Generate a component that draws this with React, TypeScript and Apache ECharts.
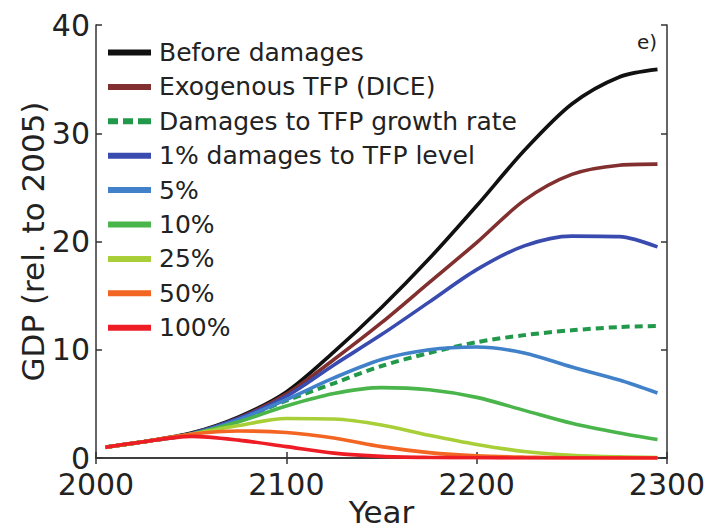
import React, { useEffect, useRef } from "react";
import * as echarts from "echarts";

const years = [2005, 2025, 2050, 2075, 2100, 2125, 2150, 2175, 2200, 2225, 2250, 2275, 2295];

const beforeDamages = [1.0, 1.5, 2.3, 3.8, 6.1, 9.8, 13.9, 18.4, 23.3, 28.4, 32.7, 35.2, 35.9];
const exogenousTFP = [1.0, 1.5, 2.25, 3.7, 5.9, 9.1, 12.5, 16.2, 19.9, 23.8, 26.2, 27.05, 27.15];
const growthRate = [1.0, 1.5, 2.2, 3.55, 5.3, 6.9, 8.5, 9.7, 10.7, 11.35, 11.8, 12.1, 12.2];
const level1 = [1.0, 1.5, 2.25, 3.65, 5.7, 8.6, 11.4, 14.4, 17.4, 19.6, 20.5, 20.45, 19.5];
const level5 = [1.0, 1.5, 2.2, 3.55, 5.4, 7.4, 9.1, 10.0, 10.25, 9.7, 8.4, 7.2, 6.0];
const level10 = [1.0, 1.5, 2.2, 3.35, 4.8, 5.95, 6.5, 6.3, 5.6, 4.4, 3.2, 2.3, 1.7];
const level25 = [1.0, 1.5, 2.2, 3.0, 3.65, 3.6, 3.05, 2.1, 1.25, 0.6, 0.25, 0.1, 0.05];
const level50 = [1.0, 1.5, 2.2, 2.5, 2.35, 1.85, 1.05, 0.5, 0.2, 0.08, 0.03, 0.01, 0.0];
const level100 = [1.0, 1.5, 2.0, 1.65, 1.05, 0.45, 0.15, 0.05, 0.02, 0.0, 0.0, 0.0, 0.0];

const seriesNames = [
  "Before damages",
  "Exogenous TFP (DICE)",
  "Damages to TFP growth rate",
  "1% damages to TFP level",
  "5%",
  "10%",
  "25%",
  "50%",
  "100%",
];
const seriesValues = [beforeDamages, exogenousTFP, growthRate, level1, level5, level10, level25, level50, level100];
const seriesColors = ["#111111", "#82302f", "#22994a", "#3a4bb0", "#4181c9", "#49b54a", "#a8cf38", "#f26522", "#ee1c25"];

const xTicks = [2000, 2100, 2200, 2300];
const yTicks = [0, 10, 20, 30, 40];

const FONT = "DejaVu Sans";
const DASH_ICON = "path://M0,0h10v6h-10z M15,0h10v6h-10z M30,0h13v6h-13z";

export default function App() {
  const ref = useRef<HTMLDivElement>(null);
  useEffect(() => {
    if (!ref.current) return;
    const chart = echarts.init(ref.current, undefined, { renderer: "svg" });
    const axisLine = { show: true, lineStyle: { color: "#333", width: 1.5 } };
    const tick = { show: true, inside: true, length: 6, lineStyle: { color: "#333", width: 1.5 } };
    const series = seriesNames.map((name, i) => ({
      name,
      type: "line",
      xAxisIndex: 0,
      yAxisIndex: 0,
      symbol: "none",
      smooth: 0.3,
      data: years.map((y, j) => [y, seriesValues[i][j]]),
      lineStyle: {
        color: seriesColors[i],
        width: i === 2 ? 4 : 3.6,
        type: i === 2 ? [8, 5] : "solid",
      },
      itemStyle: { color: seriesColors[i] },
    }));
    chart.setOption({
      animation: false,
      backgroundColor: "#fff",
      textStyle: { fontFamily: FONT },
      grid: { left: 96, top: 25, right: 40, bottom: 72, containLabel: false, outerBoundsMode: "none" },
      legend: {
        orient: "vertical",
        left: 103,
        top: 35,
        itemWidth: 43,
        itemHeight: 6,
        itemGap: 9.4,
        data: seriesNames.map((n, i) => ({ name: n, icon: i === 2 ? DASH_ICON : "rect" })),
        textStyle: { fontFamily: FONT, fontSize: 25, lineHeight: 25, color: "#222", padding: [0, 0, 0, 3] },
        selectedMode: false,
      },
      xAxis: [
        {
          type: "value",
          min: 2000,
          max: 2300,
          interval: 100,
          name: "Year",
          nameLocation: "middle",
          nameGap: 38,
          nameMoveOverlap: false,
          nameTextStyle: { fontFamily: FONT, fontSize: 31, lineHeight: 31, color: "#222", verticalAlign: "top" },
          axisLine,
          axisTick: tick,
          splitLine: { show: false },
          axisLabel: {
            fontFamily: FONT,
            fontSize: 30,
            lineHeight: 24,
            color: "#222",
            margin: 14,
            formatter: (v: number) => (xTicks.includes(v) ? String(v) : ""),
          },
        },
        {
          type: "value",
          position: "top",
          min: 2000,
          max: 2300,
          interval: 100,
          axisLine,
          axisTick: tick,
          splitLine: { show: false },
          axisLabel: { show: false },
        },
      ],
      yAxis: [
        {
          type: "value",
          min: 0,
          max: 40,
          interval: 10,
          name: "GDP (rel. to 2005)",
          nameLocation: "middle",
          nameGap: 48,
          nameMoveOverlap: false,
          nameTextStyle: { fontFamily: FONT, fontSize: 31, color: "#222" },
          axisLine,
          axisTick: tick,
          splitLine: { show: false },
          axisLabel: {
            fontFamily: FONT,
            fontSize: 30,
            lineHeight: 20,
            color: "#222",
            margin: 6,
            formatter: (v: number) => (yTicks.includes(v) ? String(v) : ""),
          },
        },
        {
          type: "value",
          position: "right",
          min: 0,
          max: 40,
          interval: 10,
          axisLine,
          axisTick: tick,
          splitLine: { show: false },
          axisLabel: { show: false },
        },
      ],
      graphic: [
        {
          type: "text",
          left: 637,
          top: 32,
          style: { text: "e)", fontFamily: FONT, fontSize: 20, fill: "#222" },
        },
      ],
      series,
    });
    return () => chart.dispose();
  }, []);
  return (
    <div
      ref={ref}
      style={{ position: "fixed", left: 0, top: 0, width: 707, height: 530, background: "#fff" }}
    />
  );
}
